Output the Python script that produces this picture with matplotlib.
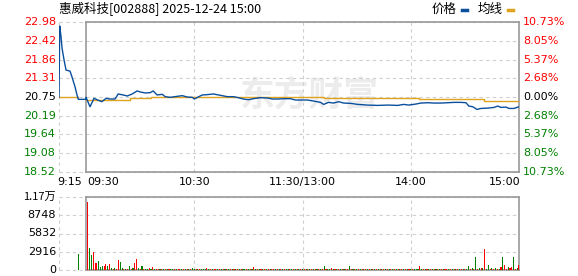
import matplotlib
matplotlib.use('Agg')
import matplotlib.pyplot as plt

plt.rcParams['font.family'] = ['DejaVu Sans']
CJK = ['Noto Sans CJK SC', 'DejaVu Sans']

title = "惠威科技[002888] 2025-12-24 15:00"
prev_close = 20.75
price_ticks = [22.98, 22.42, 21.86, 21.31, 20.75, 20.19, 19.64, 19.08, 18.52]
pct_labels = ["10.73%", "8.05%", "5.37%", "2.68%", "0.00%", "2.68%", "5.37%", "8.05%", "10.73%"]
vol_ticks = [0, 2916, 5832, 8748, 11664]
vol_labels = ["0", "2916", "5832", "8748", "1.17万"]
time_ticks = [-15, 0, 60, 120, 180, 240]
time_labels = ["9:15", "09:30", "10:30", "11:30/13:00", "14:00", "15:00"]

# pre-market auction (minutes relative to 09:30)
pre_t = [-15, -14.6, -13.9, -13.3, -12.2, -11.1, -8.9, -8.0, -6.1, -5.2, -4.3, 0]
pre_p = [20.75, 22.86, 22.55, 22.20, 21.85, 21.55, 21.52, 21.38, 21.05, 20.85, 20.68, 20.68]
pre_avg_t = [-15, -4.4]
pre_avg_p = [20.74, 20.74]

# trading session price (minutes from 09:30, lunch removed)
price_t = [0, 2.2, 4.4, 6.5, 8.7, 11.1, 13.3, 16.1, 17.8, 20.6, 22.8, 25.6, 28.3, 30, 32.8,
           35.6, 37.2, 39.4, 42.2, 43.9, 46.7, 50.6, 53.3, 56.1, 58.9, 60, 62.2, 64.4, 67.2,
           70.6, 74.4, 78.3, 81.7, 84.4, 87.2, 90, 92.8, 96.7, 100.6, 103.3, 106.1, 109.4,
           113.3, 116.1, 118.9, 122.8, 126.1, 130, 131.7, 134.4, 137.2, 140, 142.8, 146.7,
           150.6, 156.1, 161.7, 167.2, 172.8, 176.1, 178.9, 182.8, 185.6, 189.4, 192.8,
           196.7, 200.6, 203.9, 207.8, 210.6, 212.2, 214.4, 216.7, 218.9, 222.8, 226.1,
           228.3, 230, 232.8, 234.4, 237.2, 240]
price_p = [20.74, 20.46, 20.71, 20.66, 20.61, 20.71, 20.69, 20.69, 20.84, 20.81, 20.78, 20.84,
           20.93, 20.90, 20.87, 20.88, 20.93, 20.81, 20.83, 20.76, 20.74, 20.77, 20.79, 20.75,
           20.74, 20.69, 20.75, 20.81, 20.82, 20.84, 20.80, 20.76, 20.76, 20.73, 20.69, 20.67,
           20.70, 20.73, 20.72, 20.69, 20.69, 20.70, 20.70, 20.66, 20.66, 20.66, 20.63, 20.59,
           20.53, 20.59, 20.57, 20.61, 20.57, 20.56, 20.53, 20.51, 20.50, 20.51, 20.50, 20.53,
           20.51, 20.54, 20.57, 20.58, 20.57, 20.57, 20.58, 20.59, 20.59, 20.58, 20.48, 20.46,
           20.38, 20.41, 20.42, 20.44, 20.48, 20.44, 20.45, 20.41, 20.41, 20.46]
avg_t = [0, 24.4, 36.1, 131.7, 184.4, 220.6, 240]
avg_p = [20.67, 20.71, 20.75, 20.71, 20.68, 20.63, 20.63]

auction_t = -4.3
auction_vol = 2560

vol = [0, 10900, 3470, 2400, 2830, 1070, 1100, 1440, 530, 640, 640, 910, 600, 960, 300, 180, 370, 200, 1600, 1230,
       250, 200, 150, 220, 640, 180, 250, 1170, 1800, 300, 200, 600, 150, 200, 180, 250, 160, 500, 200, 150,
       180, 150, 200, 160, 140, 220, 150, 180, 130, 160, 200, 150, 140, 170, 160, 150, 130, 180, 150, 300,
       160, 140, 150, 170, 130, 150, 160, 300, 140, 150, 130, 160, 150, 140, 170, 150, 130, 150, 160, 140,
       150, 130, 160, 140, 150, 130, 150, 140, 160, 130, 150, 140, 150, 500, 140, 130, 150, 140, 160, 130,
       140, 150, 130, 160, 140, 150, 130, 140, 150, 160, 130, 140, 150, 140, 130, 150, 160, 140, 150, 130,
       150, 140, 130, 150, 160, 140, 150, 130, 140, 150, 130, 160, 690, 150, 140, 130, 300, 150, 140, 160,
       130, 150, 140, 160, 150, 130, 690, 150, 140, 160, 130, 150, 140, 150, 160, 130, 150, 140, 130, 150,
       140, 160, 130, 150, 140, 150, 130, 160, 140, 150, 130, 150, 160, 140, 150, 130, 150, 140, 160, 150,
       140, 150, 130, 160, 150, 640, 140, 150, 130, 160, 150, 140, 130, 150, 160, 140, 150, 130, 140, 150,
       160, 140, 150, 130, 150, 160, 140, 150, 130, 160, 150, 180, 640, 200, 250, 180, 2130, 200, 300, 300,
       250, 3360, 200, 800, 180, 300, 200, 250, 180, 200, 550, 2080, 800, 200, 400, 300, 550, 2080, 200, 250,
       800]
vol_dir = ("rrggrrrgggrrgrgrgrrg" "grgrgrgrrgrgrggrgrgr" "rgrgrgrggrgrrgrgrgrg"
           "grgrgggrgrgrrgrgrgrg" "rgrgrgrggrgrgrgrgrgr" "grgrrgrgrgrggrgrgrgr"
           "grgrgrgrgrgrgrggrgrg" "rgrgrrgrgrgrgrgrgrgr" "grgrgrgrgrgrgrgrgrgr"
           "grgggrgrgrgrgrgrgrgr" "rgrgrgrgrgrggrgrgrgr" "grggrgrgrgrgrrgrrgrg" "r")

BLUE = '#0a4f9e'
ORANGE = '#e0a31e'
RED = '#ff0000'
GREEN = '#008000'
GRID = '#cfcfcf'
BORDER = '#999999'

W, H = 578, 276
fig = plt.figure(figsize=(W / 100, H / 100), dpi=100)

def frame(ax, ticks, ylo, yhi):
    ax.set_xlim(-15, 240)
    ax.set_ylim(ylo, yhi)
    for s in ['top', 'left', 'bottom']:
        ax.spines[s].set_visible(False)
    ax.spines['right'].set_color(BORDER)
    ax.spines['right'].set_linewidth(1.2)
    for y in ticks:
        ax.plot([-15, 240], [y, y], color=GRID, lw=0.8, ls=(0, (3, 3)), zorder=1, clip_on=False)
    for x in [-15, 60, 120, 180]:
        ax.plot([x, x], [ylo, yhi], color=GRID, lw=0.8, ls=(0, (3, 3)), zorder=1, clip_on=False)
    ax.plot([0, 240], [yhi, yhi], color=BORDER, lw=1.2, zorder=3, clip_on=False)
    ax.plot([0, 240], [ylo, ylo], color=BORDER, lw=1.2, zorder=3, clip_on=False)
    ax.plot([0, 0], [ylo, yhi], color=BORDER, lw=1.2, zorder=3, clip_on=False)
    ax.set_xticks([])
    ax.set_yticks([])

# ---- price panel ----
ax = fig.add_axes([59 / W, 1 - 172 / H, 460 / W, 150 / H])
frame(ax, price_ticks, price_ticks[-1], price_ticks[0])

ax.text((309 - 86) / 1.8, 20.80, "东方财富", family=CJK, fontsize=25, weight='bold',
        color='#ececec', ha='center', va='center', zorder=0)

ax.plot(pre_avg_t, pre_avg_p, color=ORANGE, lw=1.0, zorder=4)
ax.plot(avg_t, avg_p, color=ORANGE, lw=1.0, drawstyle='steps-post', zorder=4)
ax.plot(pre_t + price_t, pre_p + price_p, color=BLUE, lw=1.0, zorder=5)

tr = ax.get_yaxis_transform()
for i, (v, lab) in enumerate(zip(price_ticks, pct_labels)):
    c = RED if v > prev_close else ('#000000' if v == prev_close else GREEN)
    ax.text(-3 / 460, v, f"{v:.2f}", transform=tr, ha='right', va='center', fontsize=8, color=c)
    ax.text(1 + 4 / 460, v, lab, transform=tr, ha='left', va='center', fontsize=8, color=c)

# time labels
for t, lab in zip(time_ticks, time_labels):
    if t == -15:
        ha = 'left'; x = t - 1
    elif t == 0:
        ha = 'left'; x = t + 0.5
    elif t == 240:
        ha = 'right'; x = t + 1
    else:
        ha = 'center'; x = t
    ax.text(x, 0, lab, transform=ax.get_xaxis_transform(), ha=ha, va='center',
            fontsize=8, color='#000000').set_y(-10 / 150)

fig.text(59 / W, 1 - 9 / H, title, family=CJK, fontsize=9, ha='left', va='center')
fig.text(432 / W, 1 - 9 / H, "价格", family=CJK, fontsize=9, ha='left', va='center')
fig.text(478 / W, 1 - 9 / H, "均线", family=CJK, fontsize=9, ha='left', va='center')
fig.add_artist(plt.Line2D([462 / W, 467 / W], [1 - 9.5 / H, 1 - 9.5 / H], color=BLUE, lw=2.5))
fig.add_artist(plt.Line2D([508 / W, 513 / W], [1 - 9.5 / H, 1 - 9.5 / H], color=ORANGE, lw=2.5))

# ---- volume panel ----
axv = fig.add_axes([59 / W, 1 - 270 / H, 460 / W, 73 / H])
frame(axv, vol_ticks, 0, vol_ticks[-1])
mins = list(range(len(vol)))
cols = [RED if d == 'r' else GREEN for d in vol_dir]
axv.bar(mins, vol, width=0.6, color=cols, linewidth=0, zorder=4)
axv.bar([auction_t], [auction_vol], width=0.6, color=GREEN, linewidth=0, zorder=4)
trv = axv.get_yaxis_transform()
for v, lab in zip(vol_ticks, vol_labels):
    axv.text(-3 / 460, v, lab, transform=trv, ha='right', va='center', fontsize=8,
             color='#000000', family=CJK if '万' in lab else 'DejaVu Sans')

fig.savefig('out.png', dpi=100)
